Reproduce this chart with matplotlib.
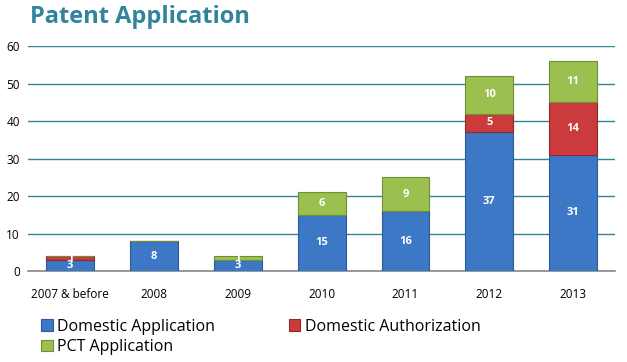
import numpy as np
import matplotlib
matplotlib.use('Agg')
import matplotlib.pyplot as plt

plt.rcParams['font.family'] = ['Open Sans', 'DejaVu Sans']

years = ['2007 & before', '2008', '2009', '2010', '2011', '2012', '2013']
domestic_app = [3, 8, 3, 15, 16, 37, 31]
domestic_auth = [1, 0, 0, 0, 0, 5, 14]
pct_app = [0, 0, 1, 6, 9, 10, 11]

series = [
    ('Domestic Application', domestic_app, '#3D78C6', '#2A5A9C'),
    ('Domestic Authorization', domestic_auth, '#CC3B3B', '#8E2A2A'),
    ('PCT Application', pct_app, '#9BC04F', '#6E8F35'),
]

fig = plt.figure(figsize=(6.27, 3.62), dpi=100)
ax = fig.add_axes([0.045, 0.251, 0.936, 0.622])

x = np.arange(len(years))
bottom = np.zeros(len(years))
for name, vals, color, edge in series:
    vals = np.array(vals, dtype=float)
    ax.bar(x, vals, 0.57, bottom=bottom, color=color, edgecolor=edge,
           linewidth=0.8, label=name, zorder=3)
    for xi, v, b in zip(x, vals, bottom):
        if v > 0:
            ax.text(xi, b + v / 2, str(int(v)), ha='center', va='center',
                    color='white', fontsize=8, fontweight='bold', zorder=4)
    bottom += vals

ax.set_xlim(-0.5, 6.5)
ax.set_ylim(0, 60)
ax.set_yticks(range(0, 61, 10))
ax.set_xticks(x)
ax.set_xticklabels(years)
ax.yaxis.grid(True, color='#31849B', linewidth=1.0, zorder=0)
ax.set_axisbelow(True)
for s in ['top', 'right', 'left']:
    ax.spines[s].set_visible(False)
ax.spines['bottom'].set_color('#888888')
ax.spines['bottom'].set_linewidth(1.2)
ax.tick_params(axis='both', length=0, labelsize=8.5, colors='black')
ax.tick_params(axis='y', pad=6)
ax.tick_params(axis='x', pad=12)

fig.text(0.048, 0.953, 'Patent Application', fontsize=17, fontweight='bold',
         color='#31849B', va='center', ha='left')

handles, labels = ax.get_legend_handles_labels()
order = [0, 2, 1]
fig.legend([handles[i] for i in order], [labels[i] for i in order],
           loc='upper left', bbox_to_anchor=(0.066, 0.12),
           ncol=2, frameon=False, fontsize=11.5, handlelength=0.7,
           handleheight=0.7, handletextpad=0.3, columnspacing=4.6,
           labelspacing=0.3, borderaxespad=0, borderpad=0)

plt.savefig('out.png', dpi=100)
